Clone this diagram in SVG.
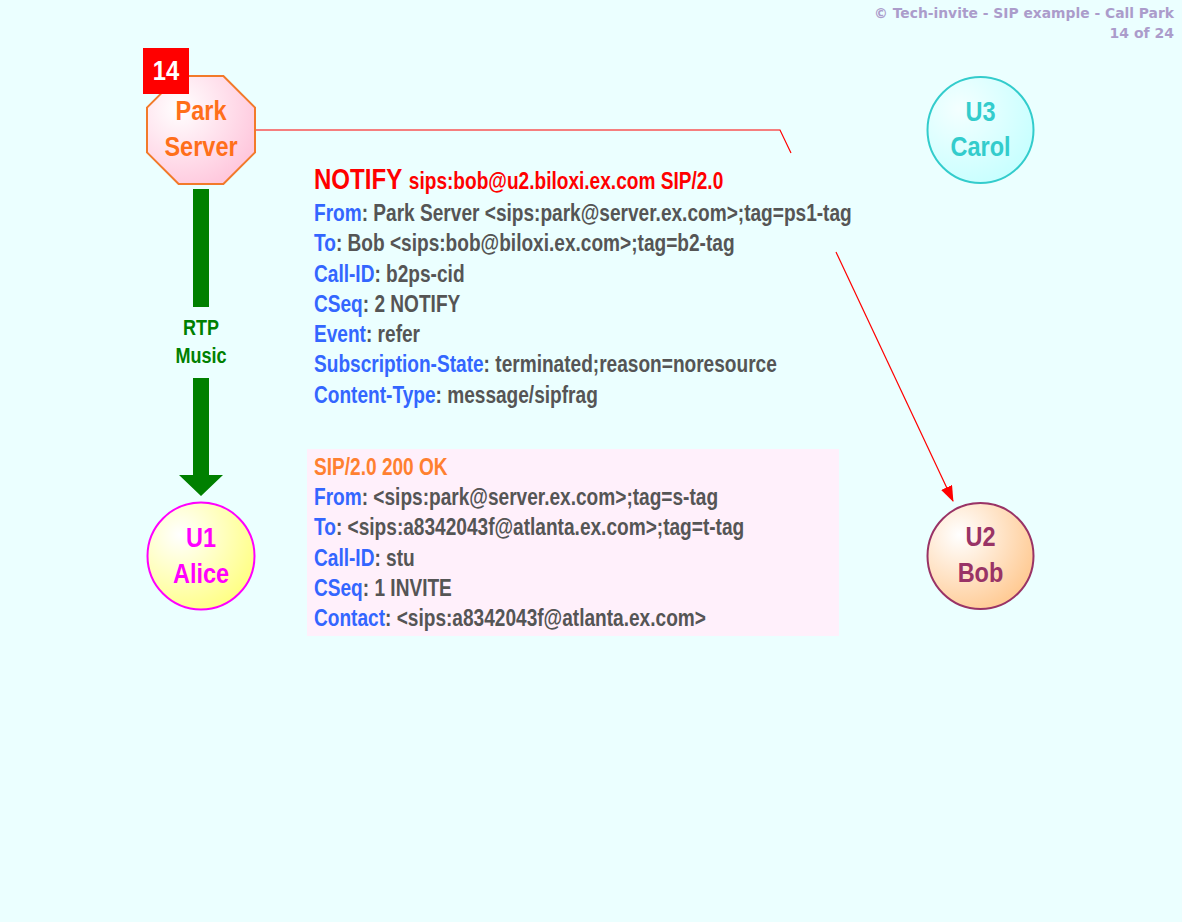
<svg xmlns="http://www.w3.org/2000/svg" width="1182" height="922" viewBox="0 0 1182 922">
<defs>
<style>
.t{font-family:"Liberation Sans",Arial,sans-serif;font-weight:bold}
.n{font-size:28px;text-anchor:middle}
.m{font-size:23px;fill:#555555}
.h{fill:#3366ff}
.hdr{font-family:"DejaVu Sans","Liberation Sans",sans-serif;font-weight:bold;font-size:14px;fill:#ab9ccb;text-anchor:end}
</style>
<radialGradient id="gPark" cx="30%" cy="30%" r="80%"><stop offset="0" stop-color="#ffffff"/><stop offset="1" stop-color="#ffc6dc"/></radialGradient>
<radialGradient id="gAlice" cx="30%" cy="30%" r="80%"><stop offset="0" stop-color="#ffffff"/><stop offset="1" stop-color="#ffff80"/></radialGradient>
<radialGradient id="gCarol" cx="30%" cy="30%" r="80%"><stop offset="0" stop-color="#f4ffff"/><stop offset="1" stop-color="#c6ffff"/></radialGradient>
<radialGradient id="gBob" cx="30%" cy="30%" r="80%"><stop offset="0" stop-color="#ffffff"/><stop offset="1" stop-color="#ffc88f"/></radialGradient>
<marker id="arr" markerWidth="16" markerHeight="12" refX="15" refY="6" orient="auto" markerUnits="userSpaceOnUse"><path d="M0,0 L16,6 L0,12 z" fill="#ff0000"/></marker>
</defs>
<rect width="1182" height="922" fill="#ebffff"/>
<text class="hdr" x="1174" y="18" textLength="300" lengthAdjust="spacingAndGlyphs">© Tech-invite - SIP example - Call Park</text>
<text class="hdr" x="1174" y="38">14 of 24</text>

<g id="connectors">
<polyline points="255,130 780,130 791,153" fill="none" stroke="#ff0000" stroke-width="1.2"/>
<line x1="836" y1="252" x2="953" y2="501" stroke="#ff0000" stroke-width="1.2" marker-end="url(#arr)"/>
<rect x="193" y="189" width="16" height="118" fill="#008000"/>
<polygon points="193,378 209,378 209,475 223,475 201,496 179,475 193,475" fill="#008000"/>
<g transform="translate(201,0) scale(0.82,1)">
<text class="t" x="0" y="335" font-size="22" fill="#008000" text-anchor="middle">RTP</text>
<text class="t" x="0" y="363" font-size="22" fill="#008000" text-anchor="middle">Music</text>
</g>
</g>

<g id="park-server">
<polygon points="178.6,76 223.4,76 255,107.6 255,152.4 223.4,184 178.6,184 147,152.4 147,107.6" fill="url(#gPark)" stroke="#f27a2a" stroke-width="2"/>
<rect x="143" y="48" width="46" height="46" fill="#ff0000"/>
<text class="t" transform="translate(166,0) scale(0.85,1)" x="0" y="80" font-size="28" fill="#ffffff" text-anchor="middle">14</text>
<g transform="translate(201,0) scale(0.84,1)">
<text class="t n" x="0" y="120" fill="#ff6f1a">Park</text>
<text class="t n" x="0" y="156" fill="#ff6f1a">Server</text>
</g>
</g>

<g id="u3-carol">
<circle cx="980.5" cy="130" r="53" fill="url(#gCarol)" stroke="#33cccc" stroke-width="2"/>
<g transform="translate(980.5,0) scale(0.84,1)">
<text class="t n" x="0" y="121" fill="#33cccc">U3</text>
<text class="t n" x="0" y="156" fill="#33cccc">Carol</text>
</g>
</g>

<g id="u1-alice">
<circle cx="201" cy="556" r="53.5" fill="url(#gAlice)" stroke="#ff00ff" stroke-width="2"/>
<g transform="translate(201,0) scale(0.84,1)">
<text class="t n" x="0" y="547" fill="#ff00ff">U1</text>
<text class="t n" x="0" y="583" fill="#ff00ff">Alice</text>
</g>
</g>

<g id="u2-bob">
<circle cx="980.5" cy="556" r="53" fill="url(#gBob)" stroke="#993366" stroke-width="2"/>
<g transform="translate(980.5,0) scale(0.84,1)">
<text class="t n" x="0" y="546" fill="#993366">U2</text>
<text class="t n" x="0" y="582" fill="#993366">Bob</text>
</g>
</g>

<g id="notify-message" transform="translate(314,0) scale(0.83,1)">
<text class="t" x="0" y="189" fill="#ff0000"><tspan font-size="29">NOTIFY</tspan><tspan font-size="23" dx="8">sips:bob@u2.biloxi.ex.com SIP/2.0</tspan></text>
<text class="t m" x="0" y="221"><tspan class="h">From</tspan>: Park Server &lt;sips:park@server.ex.com&gt;;tag=ps1-tag</text>
<text class="t m" x="0" y="251.3"><tspan class="h">To</tspan>: Bob &lt;sips:bob@biloxi.ex.com&gt;;tag=b2-tag</text>
<text class="t m" x="0" y="281.6"><tspan class="h">Call-ID</tspan>: b2ps-cid</text>
<text class="t m" x="0" y="311.9"><tspan class="h">CSeq</tspan>: 2 NOTIFY</text>
<text class="t m" x="0" y="342.2"><tspan class="h">Event</tspan>: refer</text>
<text class="t m" x="0" y="372.5"><tspan class="h">Subscription-State</tspan>: terminated;reason=noresource</text>
<text class="t m" x="0" y="402.8"><tspan class="h">Content-Type</tspan>: message/sipfrag</text>
</g>

<g id="ok-message">
<rect x="307" y="449" width="532" height="187" fill="#fff0fb"/>
<g transform="translate(314,0) scale(0.83,1)">
<text class="t" x="0" y="475" font-size="23" fill="#ff8030">SIP/2.0 200 OK</text>
<text class="t m" x="0" y="505"><tspan class="h">From</tspan>: &lt;sips:park@server.ex.com&gt;;tag=s-tag</text>
<text class="t m" x="0" y="535.3"><tspan class="h">To</tspan>: &lt;sips:a8342043f@atlanta.ex.com&gt;;tag=t-tag</text>
<text class="t m" x="0" y="565.6"><tspan class="h">Call-ID</tspan>: stu</text>
<text class="t m" x="0" y="595.9"><tspan class="h">CSeq</tspan>: 1 INVITE</text>
<text class="t m" x="0" y="626.2"><tspan class="h">Contact</tspan>: &lt;sips:a8342043f@atlanta.ex.com&gt;</text>
</g>
</g>
</svg>
